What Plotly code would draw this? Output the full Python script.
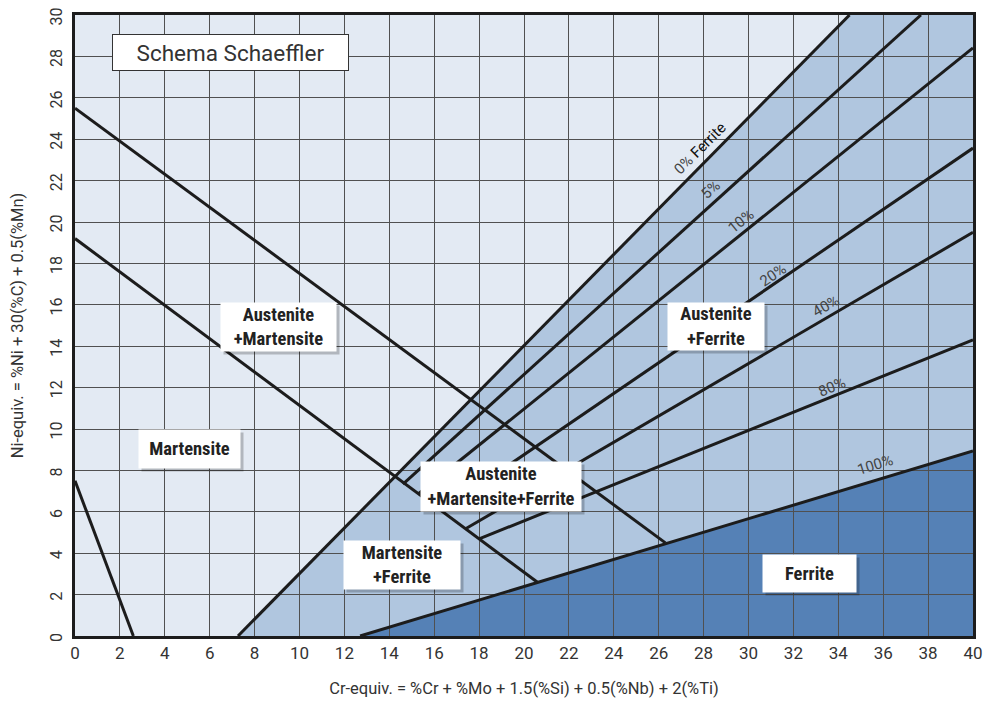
import plotly.graph_objects as go

# ---------------- data ----------------
x_ticks = list(range(0, 41, 2))
y_ticks = list(range(0, 31, 2))

# martensite boundary (lower left)
mart_x = [0, 2.6]
mart_y = [7.5, 0]
# austenite+martensite boundaries
am_low_x = [0, 20.6]
am_low_y = [19.2, 2.6]
am_high_x = [0, 26.3]
am_high_y = [25.5, 4.5]

# iso-ferrite lines: start / end points
ferrite_names = ["0%", "5%", "10%", "20%", "40%", "80%", "100%"]
ferrite_x0 = [7.26, 14.61, 15.3, 16.33, 17.4, 18.0, 12.7]
ferrite_y0 = [0, 7.34, 6.87, 6.04, 5.18, 4.69, 0]
ferrite_x1 = [34.5, 37.68, 40, 40, 40, 40, 40]
ferrite_y1 = [30, 30, 28.41, 23.57, 19.5, 14.3, 8.94]

# labels along the ferrite lines
flabel_text = ["0% <span style='color:#111'>Ferrite</span>", "5%", "10%", "20%", "40%", "80%", "100%"]
flabel_x = [27.86, 28.29, 29.67, 31.09, 33.45, 33.72, 35.63]
flabel_y = [23.57, 21.55, 20.05, 17.44, 15.94, 12.03, 8.26]
flabel_angle = [-45, -42, -39, -34, -30, -22, -17]

# region labels
region_text = ["Martensite", "Austenite<br>+Martensite", "Austenite<br>+Martensite+Ferrite",
               "Martensite<br>+Ferrite", "Austenite<br>+Ferrite", "Ferrite"]
region_x = [5.1, 9.08, 18.97, 14.57, 28.54, 32.72]
region_y = [9.01, 14.93, 7.21, 3.45, 14.94, 3.03]
region_w = [99, 113, 158, 114, 94, 91]
region_h = [36, 46, 47, 46, 45, 35]

title_text = "Schema Schaeffler"
title_x, title_y = 6.93, 28.19

x_title = "Cr-equiv. = %Cr + %Mo + 1.5(%Si) + 0.5(%Nb) + 2(%Ti)"
y_title = "Ni-equiv. = %Ni + 30(%C) + 0.5(%Mn)"

# ---------------- styles ----------------
BG = "#E3EAF3"
MID = "#B0C6DF"
DARK = "#5581B6"
LINE = "#1c1c1c"
GRID = "#505050"
FONT = "Roboto, 'Open Sans', sans-serif"
BOLD_FONT = "'Roboto Condensed', 'Liberation Sans Narrow', 'DejaVu Sans Condensed', Roboto, sans-serif"

fig = go.Figure()

# fill regions (below the grid)
xmax, ymax = x_ticks[-1], y_ticks[-1]
mid_poly = [(ferrite_x0[0], 0), (ferrite_x0[6], 0), (ferrite_x1[6], ferrite_y1[6]),
            (xmax, ymax), (ferrite_x1[0], ferrite_y1[0])]
dark_poly = [(ferrite_x0[6], 0), (xmax, 0), (ferrite_x1[6], ferrite_y1[6])]


def path(poly):
    return "M " + " L ".join(f"{px},{py}" for px, py in poly) + " Z"


shapes = [
    dict(type="path", path=path(mid_poly), xref="x", yref="y", fillcolor=MID,
         line=dict(width=0), layer="below"),
    dict(type="path", path=path(dark_poly), xref="x", yref="y", fillcolor=DARK,
         line=dict(width=0), layer="below"),
]

# boundary lines
for lx, ly in [(mart_x, mart_y), (am_low_x, am_low_y), (am_high_x, am_high_y)]:
    fig.add_trace(go.Scatter(x=lx, y=ly, mode="lines", line=dict(color=LINE, width=3),
                             hoverinfo="skip", showlegend=False))
for i, name in enumerate(ferrite_names):
    fig.add_trace(go.Scatter(x=[ferrite_x0[i], ferrite_x1[i]], y=[ferrite_y0[i], ferrite_y1[i]],
                             mode="lines", line=dict(color=LINE, width=3), name=name,
                             hoverinfo="skip", showlegend=False))

annotations = []
for i, t in enumerate(flabel_text):
    annotations.append(dict(x=flabel_x[i], y=flabel_y[i], text=t, showarrow=False,
                            textangle=flabel_angle[i],
                            font=dict(family=FONT, size=15, color="#444")))

# region label boxes with shadow
for i, t in enumerate(region_text):
    annotations.append(dict(x=region_x[i], y=region_y[i], text=" ", showarrow=False,
                            xshift=3, yshift=-3, width=region_w[i], height=region_h[i],
                            bgcolor="rgba(0,0,0,0.22)", font=dict(size=4)))
    annotations.append(dict(x=region_x[i], y=region_y[i], text="<b>" + t + "</b>", showarrow=False,
                            width=region_w[i], height=region_h[i], bgcolor="white",
                            font=dict(family=BOLD_FONT, size=18.5, color="#222")))

annotations.append(dict(x=title_x, y=title_y, text=title_text, showarrow=False,
                        width=233, height=33, bgcolor="white", bordercolor="#333",
                        borderwidth=1, font=dict(family=FONT, size=22.5, color="#333")))

# the page body adds an 8px offset, so the figure is 8px smaller on each axis
fig.update_layout(
    width=984, height=696,
    margin=dict(l=67, r=19, t=7, b=68),
    paper_bgcolor="white",
    plot_bgcolor=BG,
    shapes=shapes,
    annotations=annotations,
    showlegend=False,
    xaxis=dict(range=[0, xmax], tickvals=x_ticks, showgrid=True, gridcolor=GRID, gridwidth=1,
               showline=True, linecolor=LINE, linewidth=3, mirror=True, zeroline=False,
               automargin=False, ticklabeloverflow="allow",
               ticks="", tickfont=dict(family=FONT, size=17, color="#333"),
               title=dict(text=x_title, font=dict(family=FONT, size=16.5, color="#333"), standoff=21)),
    yaxis=dict(range=[0, ymax], tickvals=y_ticks, showgrid=True, gridcolor=GRID, gridwidth=1,
               showline=True, linecolor=LINE, linewidth=3, mirror=True, zeroline=False,
               automargin=False, ticklabelstandoff=4, ticklabeloverflow="allow", ticklabelshift=4,
               ticks="", tickangle=-90, tickfont=dict(family=FONT, size=16, color="#333"),
               title=dict(text=y_title, font=dict(family=FONT, size=16.5, color="#333"), standoff=29)),
)

fig.write_html("out.html")
